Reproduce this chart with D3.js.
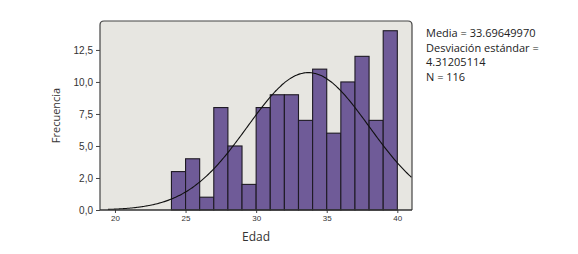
<!DOCTYPE html>
<html lang="es">
<head>
<meta charset="UTF-8">
<title>Histograma Edad</title>
<script src="https://d3js.org/d3.v7.min.js"></script>
<style>
  body { margin: 0; background: #fff; font-family: "Open Sans", "Noto Sans", sans-serif; }
  .tick text { fill: #333; }
</style>
</head>
<body>
<div id="chart"></div>
<script>
// bin starts (width 1) and counts
const binStarts = [24, 25, 26, 27, 28, 29, 30, 31, 32, 33, 34, 35, 36, 37, 38, 39];
const counts    = [3, 4, 1, 8, 5, 2, 8, 9, 9, 7, 11, 6, 10, 12, 7, 14];
const yTicks = [0, 2.5, 5, 7.5, 10, 12.5];
const yTickLabels = ["0,0", "2,0", "5,0", "7,5", "10,0", "12,5"];
const xTicks = [20, 25, 30, 35, 40];
const mean = 33.69649970, sd = 4.31205114, N = 116;
const statLines = ["Media = 33.69649970", "Desviación estándar =", "4.31205114", "N = 116"];

const W = 578, H = 254;
const pLeft = 100, pRight = 412, pTop = 21, pBottom = 210;

const svg = d3.select("#chart").append("svg").attr("width", W).attr("height", H);

const x = d3.scaleLinear().domain([18.94, 41.04]).range([pLeft, pRight]);
const y = d3.scaleLinear().domain([0, 14.76]).range([pBottom, pTop]);

// plot background
svg.append("path")
  .attr("d", `M${pLeft},${pBottom} V${pTop + 4} Q${pLeft},${pTop} ${pLeft + 4},${pTop} H${pRight - 4} Q${pRight},${pTop} ${pRight},${pTop + 4} V${pBottom}`)
  .attr("fill", "#e7e6e1").attr("stroke", "#444").attr("stroke-width", 1.2);

// bars
svg.selectAll("rect.bar").data(binStarts).enter().append("rect")
  .attr("class", "bar")
  .attr("x", d => x(d))
  .attr("width", d => x(d + 1) - x(d))
  .attr("y", (d, i) => y(counts[i]))
  .attr("height", (d, i) => y(0) - y(counts[i]))
  .attr("fill", "#6f5b98").attr("stroke", "#1e1a24").attr("stroke-width", 1.1);

// normal curve
const pts = d3.range(19.5, 41.04, 0.1).map(v => [v, N * Math.exp(-0.5 * ((v - mean) / sd) ** 2) / (sd * Math.sqrt(2 * Math.PI))]);
svg.append("path").datum(pts)
  .attr("d", d3.line().x(d => x(d[0])).y(d => y(d[1])).curve(d3.curveBasis))
  .attr("fill", "none").attr("stroke", "#111").attr("stroke-width", 1.1);

// axes
const yAxis = d3.axisLeft(y).tickValues(yTicks).tickFormat((d, i) => yTickLabels[i]).tickSize(4).tickPadding(3);
const gy = svg.append("g").attr("transform", `translate(${pLeft},0)`).call(yAxis);
gy.select(".domain").remove();
gy.selectAll("text").style("font-size", "10px");
gy.selectAll("line").attr("stroke", "#444");

const xAxis = d3.axisBottom(x).tickValues(xTicks).tickSize(3).tickPadding(2);
const gx = svg.append("g").attr("transform", `translate(0,${pBottom})`).call(xAxis);
gx.select(".domain").remove();
gx.selectAll("text").style("font-size", "8px");
gx.selectAll("line").attr("stroke", "#444");

// bottom axis line
svg.append("line").attr("x1", pLeft).attr("x2", pRight).attr("y1", pBottom).attr("y2", pBottom)
  .attr("stroke", "#333").attr("stroke-width", 1.4);

// axis titles
svg.append("text").attr("transform", `translate(60,${(pTop + pBottom) / 2}) rotate(-90)`)
  .attr("text-anchor", "middle").style("font-size", "11px").attr("fill", "#333").text("Frecuencia");
svg.append("text").attr("x", (pLeft + pRight) / 2).attr("y", 241)
  .attr("text-anchor", "middle").style("font-size", "12px").attr("fill", "#333").text("Edad");

// statistics
svg.selectAll("text.stat").data(statLines).enter().append("text")
  .attr("class", "stat")
  .attr("x", 426).attr("y", (d, i) => 37 + i * 14.7)
  .style("font-size", "11px").attr("fill", "#222").text(d => d);
</script>
</body>
</html>
